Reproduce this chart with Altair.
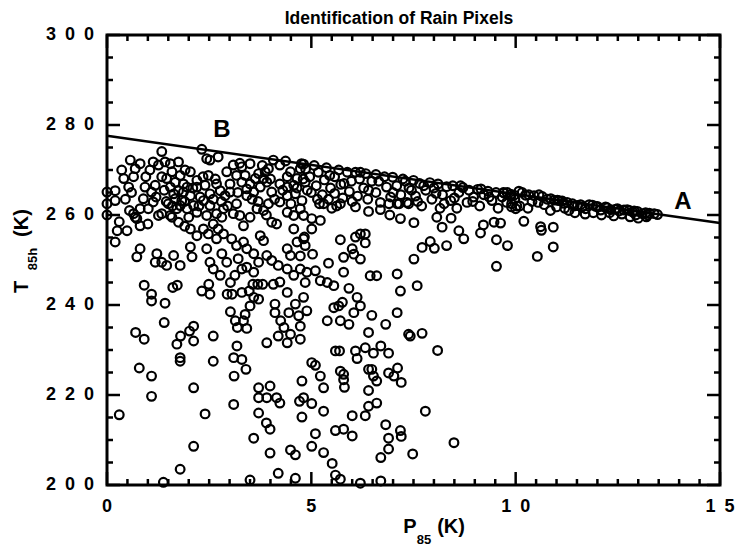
import altair as alt
import pandas as pd

TITLE = "Identification of Rain Pixels"

# ---- data (P85 in K, T85h in K) ----
upper_left = [(0.0,265.1),(0.0,262.5),(0.0,260.0),(0.2,265.4),(0.2,263.2),(0.2,254.0),(0.25,256.5),(0.49,256.5),
    (0.36,270.0),(0.57,272.2),(0.41,268.1),(0.69,270.3),(0.81,271.4),(0.65,268.5),(0.53,266.2),(0.93,266.2),
    (0.89,263.6),(0.81,261.4),(0.73,259.2),(0.81,257.6),(0.65,260.3),(0.69,259.5),(1.13,271.8),(1.34,274.1),
    (1.26,271.1),(1.42,271.8),(1.55,271.4),(1.75,271.8),(1.34,268.5),(1.18,266.6),(1.09,265.1),(1.13,262.9),
    (1.01,261.4),(1.26,259.9),(1.34,260.3),(1.55,266.2),(1.63,264.7),(1.75,265.4),(1.87,266.9),(1.67,263.6),
    (1.83,263.2),(2.04,264.3),(1.96,261.4),(2.12,262.1),(2.28,264.0),(2.2,260.6),(1.71,261.4),(1.59,259.5),
    (1.75,258.4),(1.55,259.9)]

upper_mid = [(1.91,270.0),(2.04,269.6),(2.2,267.7),(2.32,274.6),(2.44,272.5),(2.52,272.2),(2.72,272.9),(2.48,268.8),
    (2.4,266.6),(2.68,266.9),(2.77,265.4),(2.89,264.3),(3.01,266.9),(3.09,271.1),(3.17,268.8),(3.3,267.3),
    (3.5,271.4),(3.42,264.3),(3.59,265.1),(3.71,269.2),(3.83,268.1),(3.67,261.4),(3.83,261.0),(3.17,262.5),
    (3.09,260.3),(3.25,259.9),(3.34,257.6),(2.85,261.4),(2.81,259.5),(2.68,260.3),(2.44,259.9),(4.03,258.4),
    (4.15,258.0),(3.95,262.5),(4.23,262.9),(4.41,260.6),(4.57,259.9),(4.73,261.4),(4.23,266.9),(4.41,268.5),
    (4.57,266.6),(4.73,270.3),(3.95,270.3),(4.07,272.2),(4.23,271.1),(4.41,264.3),(4.03,265.1),(1.46,268.1),
    (1.59,269.6),(1.79,268.8),(1.67,267.3),(1.87,265.1),(1.96,266.2),(1.79,262.1),(1.5,262.5),(2.0,259.5),
    (2.2,266.2),(2.36,263.2),(2.52,262.1),(2.52,264.7),(2.93,269.6),(3.01,265.1),(3.3,270.7),(3.38,268.8),
    (3.5,266.9),(3.63,268.1),(3.75,266.2),(3.91,267.3),(3.87,269.6),(3.42,265.8),(4.37,272.0),(4.49,269.6),
    (4.65,268.1),(4.81,271.3),(4.85,267.3),(4.61,264.7),(4.77,263.2),(4.41,266.2)]

upper_dense = [(0.45,263.5),(0.6,265.0),(0.95,268.5),(1.05,270.0),(1.2,264.0),(1.4,265.5),(1.45,263.0),(1.6,262.0),
    (1.9,263.0),(2.1,266.0),(2.25,262.0),(2.35,268.5),(2.6,263.5),(2.65,268.0),(2.8,263.0),(2.95,262.0),
    (3.2,265.0),(3.25,271.5),(3.55,263.5),(3.7,263.0),(3.8,271.0),(4.0,268.0),(4.1,263.5),(4.3,265.5),
    (4.5,262.5),(4.65,266.0),(4.9,265.5),(5.15,263.5),(5.5,261.5),(0.3,258.5),(0.55,261.0),(1.0,258.0),
    (1.9,257.5),(2.6,258.0),(3.5,259.5),(3.9,260.0)]

mid_left_low = [(2.36,256.9),(2.48,255.8),(2.04,256.9),(2.2,255.4),(2.72,256.9),(2.85,255.8),(2.68,254.7),(3.05,254.7),
    (3.17,253.2),(3.34,254.0),(3.42,252.5),(3.75,255.4),(3.83,254.3),(4.57,256.9),(4.65,254.0),(4.81,254.7),
    (4.41,252.5),(4.49,251.0),(3.91,251.0),(4.03,249.9),(4.19,248.8),(3.59,251.4),(3.71,249.5),(3.42,248.4),
    (3.59,247.3),(3.21,250.3),(3.3,248.0),(3.13,246.6),(2.81,251.4),(2.93,249.5),(2.44,252.5),(2.52,249.5),
    (2.6,248.0),(2.77,246.6),(2.04,252.9),(2.08,250.7),(1.63,251.0),(1.79,248.8),(1.22,251.4),(1.34,249.5),
    (1.46,248.8),(0.81,252.5),(0.73,250.7),(1.18,249.5),(4.41,248.0),(4.57,246.6),(4.23,245.1),(4.73,248.0)]

mid_band = [(4.76,271.4),(4.86,270.2),(4.96,268.5),(5.07,271.0),(5.12,266.5),(5.17,269.5),(5.27,264.5),(5.32,267.8),
    (5.37,270.5),(5.42,263.5),(5.47,266.0),(5.57,268.5),(5.57,264.8),(5.67,270.0),(5.72,266.8),(5.77,263.8),
    (5.88,269.5),(5.93,265.2),(5.98,267.5),(6.08,269.5),(6.13,264.2),(6.18,268.0),(6.28,266.0),(6.33,269.2),
    (6.38,263.5),(6.48,267.5),(6.58,269.0),(6.58,265.0),(6.69,262.8),(6.79,268.5),(6.84,266.2),(6.94,264.0),
    (6.99,268.4),(7.09,266.5),(7.19,264.5),(7.24,268.0),(7.34,262.8),(7.39,266.0),(7.5,267.7),(7.55,264.2),
    (7.65,267.0),(7.7,262.0),(7.8,265.5),(7.9,267.2),(7.95,263.5),(8.0,266.0),(8.1,266.9),(8.15,261.5),
    (8.21,264.5),(8.31,266.3),(8.41,263.2),(8.46,266.5),(8.56,261.5),(8.61,265.0),(8.71,266.1),(8.81,262.8),
    (8.86,265.5),(8.97,264.0),(9.07,265.7),(9.12,262.0),(9.22,264.5),(9.32,265.3),(9.42,263.2),(9.52,265.0),
    (9.57,261.5),(9.67,264.0),(9.78,262.8),(9.88,264.6),(9.98,263.5),(10.03,262.0),
    (4.8,268.0),(5.0,265.0),(5.2,262.5),(5.45,268.8),(5.62,262.0),(5.8,267.0),(6.0,263.0),(6.2,269.5),
    (6.4,265.5),(6.65,267.5),(6.9,262.5),(7.0,265.0),(7.15,262.5),(7.3,267.5),(7.45,265.5),(7.6,263.0),
    (7.75,266.5),(8.05,264.8),(8.25,262.5),(8.5,263.8),(8.65,266.5),(8.95,263.0),(9.15,265.8),(9.35,264.0),
    (9.7,265.0),(9.9,261.8)]

below_mid = [(5.3,262.5),(5.71,262.5),(6.08,261.8),(6.4,260.8),(6.69,261.2),(6.92,260.0),(7.18,259.2),(7.51,258.3),
    (7.1,262.5),(7.38,262.5),(8.07,259.5),(8.2,257.3),(8.42,259.3),(8.61,256.5),(8.73,254.7),(9.21,257.8),
    (7.71,252.8),(7.91,254.1),(8.01,252.6),(8.31,253.2),(7.51,250.2),(5.71,254.5),(6.08,255.1),(6.2,255.8),
    (6.32,255.8),(6.32,253.8),(6.0,252.5),(6.04,251.3),(6.2,250.2),(5.79,250.6),(6.44,246.5),(6.6,246.5),
    (7.1,246.9),(7.59,244.3),(5.42,249.3),(5.79,247.3),(5.03,251.3),(4.83,255.1),(5.01,256.9),(5.22,258.8),
    (5.01,259.2),(4.81,259.9),(4.89,247.3),(5.1,247.6),(4.85,245.0),(5.22,245.4),(5.39,245.0),(5.55,244.3),
    (4.73,250.9),(4.85,253.2),(9.53,254.5),(9.80,253.2),(9.53,248.6),(10.2,258.6),(10.61,257.4),(10.63,256.6),
    (10.92,257.3),(10.92,252.9),(10.53,250.8),(9.14,256.0),(9.47,258.4),(10.0,261.4),(9.63,258.2)]

right_band = [(9.71,264.9),(9.88,264.1),(10.08,265.3),(10.16,265.0),(10.24,264.4),(10.45,264.3),(10.57,264.5),
    (10.65,264.1),(10.86,263.6),(10.94,263.3),(11.06,263.2),(11.14,263.1),(11.18,262.6),(11.26,262.8),
    (11.39,262.5),(11.51,262.1),(11.63,261.8),(11.71,261.4),(11.80,262.3),(11.88,262.2),(11.96,261.9),
    (12.08,261.1),(12.20,261.8),(12.24,261.6),(12.33,261.2),(12.45,261.3),(12.53,260.9),(12.65,261.1),
    (12.78,261.0),(12.86,260.7),(12.94,260.0),(12.98,260.8),(13.10,260.3),(13.23,260.0),(13.27,260.4),
    (13.39,260.3),(13.47,260.1),(9.79,265.0),(9.96,264.4),(10.32,264.5),(10.77,263.5),(11.02,263.3),
    (11.43,262.0),(11.59,262.3),(12.0,261.9),(12.49,261.4),(12.73,261.2),(12.90,260.9),(13.18,260.5),
    (10.1,262.0),(10.3,261.5),(10.4,263.0),(10.7,262.3),(10.85,261.0),(11.0,261.8),(11.3,261.0),(11.45,260.5),
    (11.7,260.2),(11.9,260.5),(12.1,260.0),(12.4,259.8),(12.6,260.2),(12.8,259.6),(13.0,259.3),(13.2,259.6),
    (11.2,261.5),(10.55,262.8),(9.9,262.5),(12.3,260.5)]

low_left = [(0.91,244.4),(1.09,242.4),(1.09,240.9),(1.42,240.4),(1.61,243.9),(1.72,244.4),(2.32,243.1),(2.52,242.4),
    (2.49,244.6),(3.02,245.0),(2.94,242.4),(3.06,242.4),(3.3,242.8),(3.02,238.5),(3.14,236.5),(3.19,235.0),
    (3.34,236.5),(3.42,234.8),(3.38,237.9),(3.5,239.8),(3.59,241.7),(3.71,241.3),(3.48,243.1),(3.57,244.6),
    (3.69,244.6),(3.81,244.6),(4.07,244.6),(4.41,242.8),(4.11,240.2),(4.11,238.3),(4.25,236.5),(4.33,235.0),
    (4.45,238.3),(4.61,240.2),(4.69,237.6),(4.73,235.3),(4.81,241.7),(4.89,238.7),(4.49,233.5),(4.19,233.1),
    (4.41,231.6),(3.91,231.6),(4.73,232.4),(0.7,233.9),(0.91,232.4),(1.4,236.1),(1.8,233.1),(1.71,231.3),
    (2.02,234.2),(2.12,235.3),(2.12,232.0),(2.6,233.1),(1.79,228.3),(1.79,227.5),(2.6,227.5),(3.1,228.3),
    (3.3,227.9),(3.18,230.9),(3.4,225.7),(3.11,224.2),(0.79,226.0),(1.09,224.2),(1.09,219.7),(0.3,215.6),
    (2.12,221.6),(2.4,215.8),(3.1,217.9),(3.71,221.6),(3.71,219.4),(3.99,222.0),(3.91,219.4),(4.15,219.4),
    (4.23,218.2),(3.71,216.0),(3.9,213.8),(3.99,212.4),(3.59,210.4),(3.99,207.1),(4.49,207.8),(4.61,206.7),
    (4.71,218.6),(2.12,208.6),(1.79,203.5),(1.38,200.6),(3.5,201.1),(4.19,202.6),(4.61,201.5)]

low_mid = [(5.92,243.7),(6.12,241.7),(6.2,239.8),(5.76,240.6),(5.55,239.4),(5.67,239.8),(6.04,238.3),(5.71,236.5),
    (5.92,235.7),(5.39,236.5),(6.48,237.7),(6.82,235.7),(6.4,233.9),(7.1,238.3),(7.18,243.1),(7.38,233.5),
    (7.42,233.1),(7.71,233.7),(8.09,229.9),(5.59,229.8),(5.69,229.8),(6.08,229.8),(6.12,228.1),(6.32,230.5),
    (6.52,229.3),(6.7,230.9),(6.89,229.3),(5.01,227.2),(5.1,226.6),(5.22,224.2),(5.3,221.6),(5.71,225.3),
    (5.79,224.6),(5.79,223.4),(5.81,221.7),(6.4,225.7),(6.48,225.7),(6.52,224.2),(6.6,223.1),(6.4,221.0),
    (6.89,224.9),(7.02,224.2),(7.11,226.0),(7.2,222.8),(4.77,223.1),(4.81,219.4),(5.01,218.1),(4.77,215.1),
    (5.3,216.4),(6.4,217.5),(6.6,218.2),(6.0,215.4),(6.32,215.4),(6.82,213.4),(7.79,216.4),(5.1,211.4),
    (5.59,212.1),(5.79,212.4),(6.0,210.9),(6.89,210.4),(7.18,212.1),(7.2,210.8),(6.89,208.0),(6.7,206.1),
    (7.48,206.9),(8.49,209.4),(5.01,208.6),(5.3,207.2),(5.51,204.8),(5.59,202.2),(5.71,201.3),(6.2,200.4),
    (6.7,200.9)]

line_x = [0, 15]
line_y = [277.6, 258.2]

ann_text = ["B", "A"]
ann_x = [2.81, 14.09]
ann_y = [278.9, 263.0]

x_major = [0, 5, 10, 15]
x_major_labels = ["0", "5", "1 0", "1 5"]
x_minor = [v / 2 for v in range(31) if v % 10 != 0]
y_major = [200, 220, 240, 260, 280, 300]
y_major_labels = ["2 0 0", "2 2 0", "2 4 0", "2 6 0", "2 8 0", "3 0 0"]
y_minor = [v for v in range(200, 301, 5) if v % 20 != 0]

# ---- build tables ----
pts = (upper_left + upper_mid + upper_dense + mid_left_low + mid_band + below_mid
       + right_band + low_left + low_mid)
df_pts = pd.DataFrame(pts, columns=["p", "t"])
df_line = pd.DataFrame({"p": line_x, "t": line_y})
df_ann = pd.DataFrame({"p": ann_x, "t": ann_y, "s": ann_text})
EN = "\u2002"
df_xmaj = pd.DataFrame({"v": x_major, "s": [s.replace(" ", EN) for s in x_major_labels]})
df_xmin = pd.DataFrame({"v": x_minor})
df_ymaj = pd.DataFrame({"v": y_major, "s": [s.replace(" ", EN) for s in y_major_labels]})
df_ymin = pd.DataFrame({"v": y_minor})

W, H = 613, 450
MAJ, MIN = 13, 6
FONT = "Liberation Sans, Arial, Helvetica, sans-serif"

xs = alt.Scale(domain=[0, 15], nice=False, zero=False)
ys = alt.Scale(domain=[200, 300], nice=False, zero=False)
X = lambda: alt.X("p:Q", scale=xs, axis=None)
Y = lambda: alt.Y("t:Q", scale=ys, axis=None)

points = alt.Chart(df_pts).mark_point(shape="circle", filled=False, size=76, strokeWidth=2.2,
                                      color="black", opacity=1).encode(x=X(), y=Y())
line = alt.Chart(df_line).mark_line(color="black", strokeWidth=2.5).encode(x=X(), y=Y())
ann = alt.Chart(df_ann).mark_text(font=FONT, fontWeight="bold", fontSize=24, color="black").encode(
    x=X(), y=Y(), text="s:N")

def vticks(df, length, side):
    y0 = H if side == "bottom" else 0
    y1 = H - length if side == "bottom" else length
    return alt.Chart(df).mark_rule(color="black", strokeWidth=2.5).encode(
        x=alt.X("v:Q", scale=xs, axis=None), y=alt.value(y0), y2=alt.value(y1))

def hticks(df, length, side):
    x0 = 0 if side == "left" else W
    x1 = length if side == "left" else W - length
    return alt.Chart(df).mark_rule(color="black", strokeWidth=2.5).encode(
        y=alt.Y("v:Q", scale=ys, axis=None), x=alt.value(x0), x2=alt.value(x1))

ticks = [vticks(df_xmaj, MAJ, "bottom"), vticks(df_xmaj, MAJ, "top"),
         vticks(df_xmin, MIN, "bottom"), vticks(df_xmin, MIN, "top"),
         hticks(df_ymaj, MAJ, "left"), hticks(df_ymaj, MAJ, "right"),
         hticks(df_ymin, MIN, "left"), hticks(df_ymin, MIN, "right")]

xlab = alt.Chart(df_xmaj).mark_text(font=FONT, fontWeight="bold", fontSize=18, color="black",
                                    baseline="middle", align="center").encode(
    x=alt.X("v:Q", scale=xs, axis=None), y=alt.value(H + 22), text="s:N")
ylab = alt.Chart(df_ymaj).mark_text(font=FONT, fontWeight="bold", fontSize=18, color="black",
                                    baseline="middle", align="right").encode(
    y=alt.Y("v:Q", scale=ys, axis=None), x=alt.value(-13), text="s:N")

def txt(s, x, y, size, angle=0, font=FONT):
    return alt.Chart(pd.DataFrame({"s": [s]})).mark_text(
        font=font, fontWeight="bold", fontSize=size, color="black", angle=angle,
        align="center", baseline="middle").encode(x=alt.value(x), y=alt.value(y), text="s:N")

labels = [
    txt(TITLE, 292, -16, 17.5),
    txt("P", 303, 492, 20),
    txt("85", 317, 505, 13),
    txt("(K)", 344, 492, 20),
    txt("T", -85, 252, 20, angle=270),
    txt("85h", -74, 224, 13, angle=270),
    txt("(K)", -85, 188, 20, angle=270),
]

chart = alt.layer(points, line, ann, *ticks, xlab, ylab, *labels).properties(
    width=W, height=H,
    padding={"left": 99, "top": 27, "right": 15, "bottom": 62},
    autosize=alt.AutoSizeParams(type="none"),
).configure_view(stroke="black", strokeWidth=3)

chart.save("out.html", embed_options={"renderer": "svg", "actions": False})
